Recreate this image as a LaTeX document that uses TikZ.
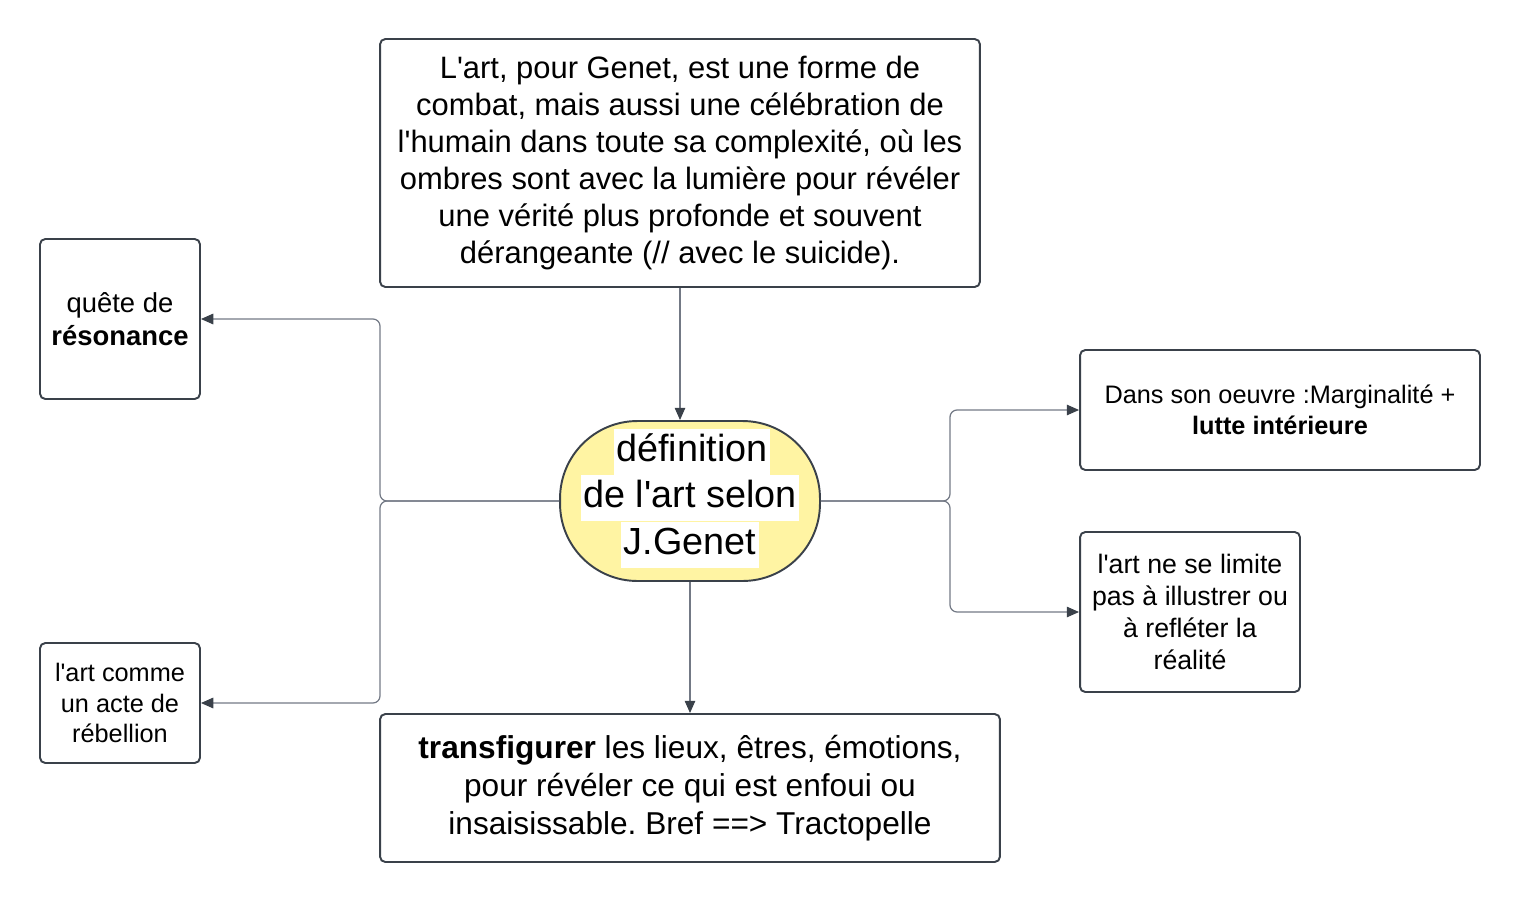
\documentclass[tikz,border=0pt]{standalone}
\usepackage{fontspec}
\setmainfont{Liberation Sans}[Ligatures=TeXOff]
\usetikzlibrary{arrows.meta}
\definecolor{boxline}{HTML}{3A414A}
\definecolor{linkline}{HTML}{737985}
\definecolor{ovalfill}{HTML}{FFF4A3}
\frenchspacing

\begin{document}
\begin{tikzpicture}[x=0.02cm,y=-0.02cm,
  box/.style={draw=boxline,line width=1.1pt,rounded corners=3pt,align=center,inner sep=0pt},
  bigtext/.style={font=\fontsize{17.6}{21}\selectfont},
  smalltext/.style={font=\fontsize{14.4}{17.6}\selectfont},
  defline/.style={fill=white,inner xsep=1.5pt,inner ysep=0.09cm,text height=0.56cm,text depth=0.18cm,font=\fontsize{21.5}{26}\selectfont},
  link/.style={draw=linkline,line width=0.7pt,rounded corners=4pt,-{Triangle[length=7pt,width=6pt,color=boxline]}}]
\useasboundingbox (0,0) rectangle (1520,903);
% boxes
\node[box,bigtext,minimum width=12cm,minimum height=4.96cm] (combat) at (680,163)
  {L'art, pour Genet, est une forme de\\combat, mais aussi une célébration de\\l'humain dans toute sa complexité, où les\\ombres sont avec la lumière pour révéler\\une vérité plus profonde et souvent\\dérangeante (// avec le suicide).};
\node[box,draw=boxline,fill=ovalfill,rounded corners=1.55cm,minimum width=5.2cm,minimum height=3.2cm] (definition) at (690,501) {};
\node[defline] (def1) at (692,452) {définition};
\node[defline] (def2) at (690,498) {de l'art selon};
\node[defline] (def3) at (690,545) {J.Genet};
\node[box,minimum width=3.2cm,minimum height=3.2cm,font=\fontsize{15.6}{18.7}\selectfont] (resonance) at (120,319)
  {quête de\\\textbf{résonance}};
\node[box,smalltext,minimum width=3.2cm,minimum height=2.4cm] (rebellion) at (120,703)
  {l'art comme\\un acte de\\rébellion};
\node[box,smalltext,minimum width=8cm,minimum height=2.4cm] (marginal) at (1280,410)
  {Dans son oeuvre :Marginalité +\\\textbf{lutte intérieure}};
\node[box,minimum width=4.4cm,minimum height=3.2cm,font=\fontsize{15.2}{18.1}\selectfont] (limite) at (1190,612)
  {l'art ne se limite\\pas à illustrer ou\\à refléter la\\réalité};
\node[box,minimum width=12.4cm,minimum height=2.96cm,font=\fontsize{18}{21.5}\selectfont] (transfig) at (690,788)
  {\textbf{transfigurer} les lieux, êtres, émotions,\\pour révéler ce qui est enfoui ou\\insaisissable. Bref ==> Tractopelle};
% connectors
\coordinate (lsplit) at (380,501);
\coordinate (rsplit) at (950,501);
\draw[link] (combat.south) -- (combat.south |- definition.north);
\draw[link] (definition.south) -- (definition.south |- transfig.north);
\draw[link] (definition.west) -- (lsplit) |- (resonance.east);
\draw[link] (definition.west) -- (lsplit) |- (rebellion.east);
\draw[link] (definition.east) -- (rsplit) |- (marginal.west);
\draw[link] (definition.east) -- (rsplit) |- (limite.west);
\end{tikzpicture}
\end{document}
